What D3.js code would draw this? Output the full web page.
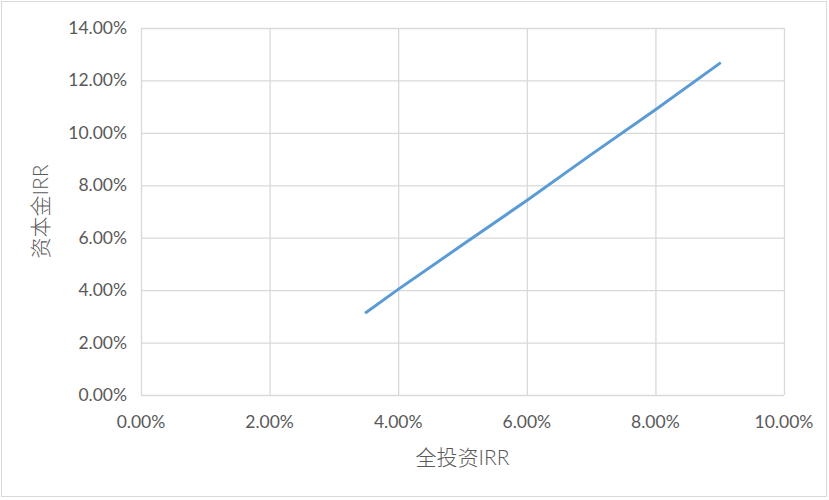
<!DOCTYPE html>
<html>
<head>
<meta charset="utf-8">
<script src="https://cdn.jsdelivr.net/npm/d3@7"></script>
<style>
  body { margin: 0; background: #fff; }
  svg text { font-family: Lato, "Noto Sans CJK SC", sans-serif; fill: #595959; }
</style>
</head>
<body>
<svg width="829" height="500"></svg>
<script>
// 全投资IRR (x) vs 资本金IRR (y), values in %
const totalIRR = [3.5, 4.0, 5.0, 6.0, 7.0, 8.0, 9.0];
const equityIRR = [3.15, 4.03, 5.73, 7.42, 9.17, 10.88, 12.65];
const xTicks = [0, 2, 4, 6, 8, 10];
const yTicks = [0, 2, 4, 6, 8, 10, 12, 14];

const svg = d3.select("svg");
const width = +svg.attr("width");
const height = +svg.attr("height");
const margin = {top: 28, right: 45, bottom: 105, left: 141};
const innerWidth = width - margin.left - margin.right;
const innerHeight = height - margin.top - margin.bottom;

// chart frame
svg.append("rect")
    .attr("x", 1.5).attr("y", 1.5)
    .attr("width", 825).attr("height", 495)
    .attr("fill", "#fff")
    .attr("stroke", "#d9d9d9");

const scaleX = d3.scaleLinear().domain([0, 10]).range([margin.left, margin.left + innerWidth]);
const scaleY = d3.scaleLinear().domain([0, 14]).range([margin.top + innerHeight, margin.top]);

// grid lines
svg.append("g")
    .attr("transform", `translate(${margin.left}, 0)`)
    .call(d3.axisLeft(scaleY).tickValues(yTicks).tickSize(-innerWidth).tickFormat(""))
    .call(a => a.select(".domain").remove())
    .call(a => a.selectAll("text").remove())
    .selectAll("line").attr("stroke", "#d9d9d9").attr("stroke-width", 1.3);

svg.append("g")
    .attr("transform", `translate(0, ${margin.top})`)
    .call(d3.axisBottom(scaleX).tickValues(xTicks).tickSize(innerHeight).tickFormat(""))
    .call(a => a.select(".domain").remove())
    .call(a => a.selectAll("text").remove())
    .selectAll("line").attr("stroke", "#d9d9d9").attr("stroke-width", 1.3);

// tick labels
svg.append("g")
    .selectAll("text")
    .data(xTicks)
    .join("text")
    .attr("x", d => scaleX(d))
    .attr("y", margin.top + innerHeight + 33)
    .attr("text-anchor", "middle")
    .style("font-size", "17.5px")
    .text(d => d.toFixed(2) + "%");

svg.append("g")
    .selectAll("text")
    .data(yTicks)
    .join("text")
    .attr("x", margin.left - 14)
    .attr("y", d => scaleY(d))
    .attr("dy", "0.34em")
    .attr("text-anchor", "end")
    .style("font-size", "17.5px")
    .text(d => d.toFixed(2) + "%");

// line
const line = d3.line()
    .x((d, i) => scaleX(totalIRR[i]))
    .y(d => scaleY(d));

svg.append("path")
    .datum(equityIRR)
    .attr("fill", "none")
    .attr("stroke", "#5b9bd5")
    .attr("stroke-width", 3)
    .attr("stroke-linecap", "round")
    .attr("d", line);

// axis titles
svg.append("text")
    .attr("x", margin.left + innerWidth / 2)
    .attr("y", 465)
    .attr("text-anchor", "middle")
    .style("font-size", "21px")
    .style("font-weight", 300)
    .text("全投资IRR");

svg.append("text")
    .attr("transform", `translate(48, ${margin.top + innerHeight / 2}) rotate(-90)`)
    .attr("text-anchor", "middle")
    .style("font-size", "21px")
    .style("font-weight", 300)
    .text("资本金IRR");
</script>
</body>
</html>
